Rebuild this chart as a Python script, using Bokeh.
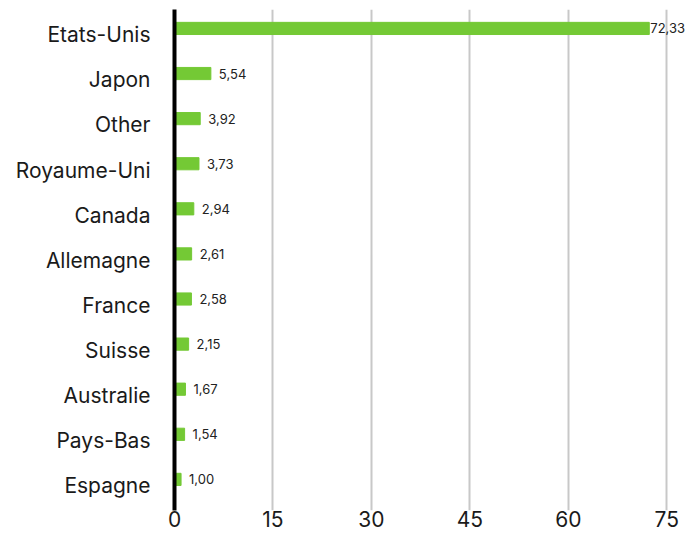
from bokeh.plotting import figure
from bokeh.models import Range1d, FixedTicker, ColumnDataSource
from bokeh.core.properties import value
from bokeh.embed import file_html
from bokeh.resources import INLINE

categories = ["Etats-Unis", "Japon", "Other", "Royaume-Uni", "Canada", "Allemagne",
              "France", "Suisse", "Australie", "Pays-Bas", "Espagne"]
values = [72.33, 5.54, 3.92, 3.73, 2.94, 2.61, 2.58, 2.15, 1.67, 1.54, 1.00]
x_ticks = [0, 15, 30, 45, 60, 75]

n = len(categories)
ypos = [n - 1 - i for i in range(n)]
labels = [f"{v:.2f}".replace(".", ",") for v in values]
offsets = [1 if v > 70 else 8 for v in values]

src = ColumnDataSource(dict(y=ypos, v=values, lab=labels, off=offsets))

# category labels sit slightly below the bar centres in the reference
label_shift = 0.14
label_ticks = [round(y - label_shift, 3) for y in ypos]

FONT = "Inter"
p = figure(width=700, height=533, x_range=Range1d(0, 78), y_range=Range1d(-0.69, 10.42),
           output_backend="svg", toolbar_location=None,
           min_border_left=174, min_border_right=14, min_border_top=9, min_border_bottom=23)

p.hbar(y="y", left=0, right="v", height=0.27, source=src, color="#74C935")
p.text(x="v", y="y", text="lab", x_offset="off", source=src, text_baseline="middle",
       text_align="left", text_font_size="13px", text_color="#222222",
       text_font=value(FONT))

p.outline_line_color = None
p.ygrid.grid_line_color = None
p.xgrid.grid_line_color = "#c8c8c8"
p.xgrid.grid_line_width = 2
p.xgrid.ticker = FixedTicker(ticks=x_ticks)

xa = p.xaxis[0]
xa.ticker = FixedTicker(ticks=x_ticks)
xa.axis_line_color = None
xa.major_tick_line_color = None
xa.minor_tick_line_color = None
xa.major_tick_out = 0
xa.major_label_text_font_size = "21px"
xa.major_label_text_font = FONT
xa.major_label_text_color = "#1a1a1a"
xa.major_label_standoff = 0

ya = p.yaxis[0]
ya.ticker = FixedTicker(ticks=label_ticks)
ya.major_label_overrides = {t: c for t, c in zip(label_ticks, categories)}
ya.axis_line_width = 4
ya.axis_line_color = "black"
ya.major_tick_line_color = None
ya.minor_tick_line_color = None
ya.major_label_text_font_size = "21px"
ya.major_label_text_font = FONT
ya.major_label_text_color = "#1a1a1a"
ya.major_label_standoff = 18

open("out.html", "w").write(file_html(p, INLINE))
